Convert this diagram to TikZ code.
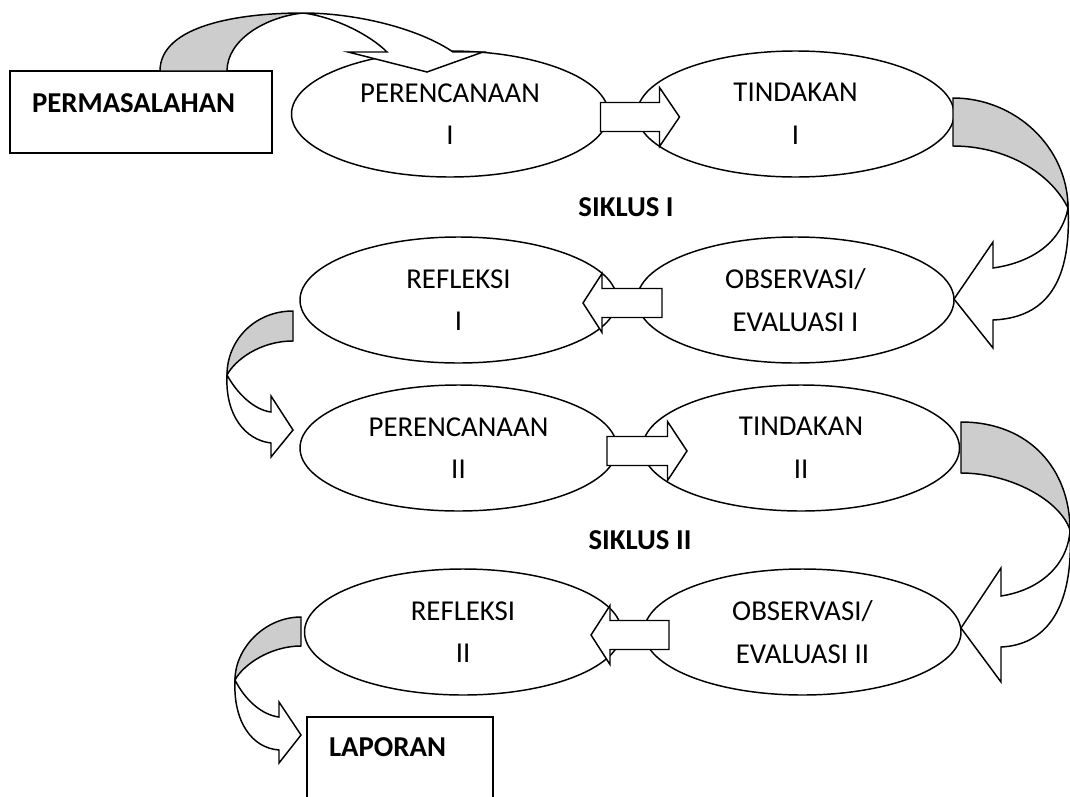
\documentclass[tikz,border=0pt]{standalone}
\usepackage{fontspec}
\setmainfont{Carlito}
\usepackage{tikz}
\usetikzlibrary{shapes.geometric}
\definecolor{ribbongray}{RGB}{205,205,205}

\begin{document}
\begin{tikzpicture}[
    x=0.75pt, y=-0.75pt,
    oval/.style={draw, ellipse, line width=1.1pt, inner sep=0pt, minimum width=237.75pt, minimum height=94.5pt, font=\fontsize{21.6}{32}\selectfont, align=center},
    box/.style={draw, line width=1.2pt, inner xsep=16.5pt, inner ysep=0pt, align=left, text height=14pt, font=\fontsize{21.6}{32}\selectfont\bfseries},
    title/.style={font=\fontsize{21.6}{32}\selectfont\bfseries},
    blockarr/.style={draw, fill=white, line width=1.1pt, line join=miter},
    back/.style={draw, fill=ribbongray, line width=1.1pt},
    front/.style={draw, fill=white, line width=1.1pt, line join=miter}
]
\useasboundingbox (0,0) rectangle (1070,796);

\node[box, text width=163.5pt, text depth=14pt, minimum height=61.5pt] (masalah) at (141,112) {PERMASALAHAN};
\node[box, text width=106.5pt, text depth=39.9pt, minimum height=84.75pt] (lapor) at (400,773.5) {LAPORAN};

\node[oval] (renc1) at (450,114) {PERENCANAAN\\I};
\node[oval] (tind1) at (795.5,114) {TINDAKAN\\I};
\node[title] (siklus1) at (626,207) {SIKLUS I};
\node[oval] (refl1) at (458.5,300) {REFLEKSI\\I};
\node[oval] (obs1) at (795.5,300) {OBSERVASI/\\EVALUASI I};
\node[oval] (renc2) at (458.5,448) {PERENCANAAN\\II};
\node[oval] (tind2) at (801,448) {TINDAKAN\\II};
\node[title] (siklus2) at (640,540) {SIKLUS II};
\node[oval] (refl2) at (463,632) {REFLEKSI\\II};
\node[oval] (obs2) at (802.5,632) {OBSERVASI/\\EVALUASI II};

\draw[blockarr] (600.5,102.5) -- (659.5,102.5) -- (659.5,87.5) -- (679.5,117) -- (659.5,146.5) -- (659.5,131.5) -- (600.5,131.5) -- cycle;
\draw[blockarr] (662,288.5) -- (602,288.5) -- (602,273.5) -- (583,303) -- (602,332.5) -- (602,317.5) -- (662,317.5) -- cycle;
\draw[blockarr] (607,436.5) -- (667.5,436.5) -- (667.5,421.5) -- (687,451) -- (667.5,480.5) -- (667.5,465.5) -- (607,465.5) -- cycle;
\draw[blockarr] (669,620.5) -- (610,620.5) -- (610,605.5) -- (591,635) -- (610,664.5) -- (610,649.5) -- (669,649.5) -- cycle;

\draw[back] (160,71) .. controls (160,25) and (240,13) .. (303,13) .. controls (265,17) and (227,40) .. (227,71) -- cycle;
\draw[front] (303,13) .. controls (355,13) and (418,28) .. (453,52) -- (483,52) -- (427,72) -- (348,52) -- (387,52) .. controls (370,35) and (335,17) .. (303,13) -- cycle;

\draw[back] (953,98) .. controls (1016,98) and (1068,148) .. (1068,208) .. controls (1050,172) and (1005,146) .. (953,146) -- cycle;
\draw[front] (1068,208) .. controls (1072,290) and (1040,318) .. (993,320) -- (993,348) -- (954,299) -- (993,242) -- (993,268) .. controls (1035,262) and (1062,240) .. (1068,208) -- cycle;

\draw[back] (293,311) .. controls (255,311) and (227,340) .. (227,375) .. controls (235,360) and (260,341) .. (293,341) -- cycle;
\draw[front] (227,375) .. controls (225,415) and (245,440) .. (271,443) -- (271,457) -- (293,430) -- (271,396) -- (271,412) .. controls (255,410) and (238,395) .. (227,375) -- cycle;

\draw[back] (961,422) .. controls (1030,422) and (1070,470) .. (1070,530) .. controls (1060,500) and (1010,473) .. (961,473) -- cycle;
\draw[front] (1070,530) .. controls (1074,610) and (1045,645) .. (1001,647) -- (1001,682) -- (961,628) -- (1001,568) -- (1001,596) .. controls (1040,590) and (1068,565) .. (1070,530) -- cycle;

\draw[back] (301,617) .. controls (265,617) and (235,648) .. (235,680) .. controls (243,665) and (270,646) .. (301,646) -- cycle;
\draw[front] (235,680) .. controls (233,722) and (252,748) .. (279,750) -- (279,763) -- (301,735) -- (279,702) -- (279,717) .. controls (262,715) and (245,700) .. (235,680) -- cycle;
\end{tikzpicture}
\end{document}
